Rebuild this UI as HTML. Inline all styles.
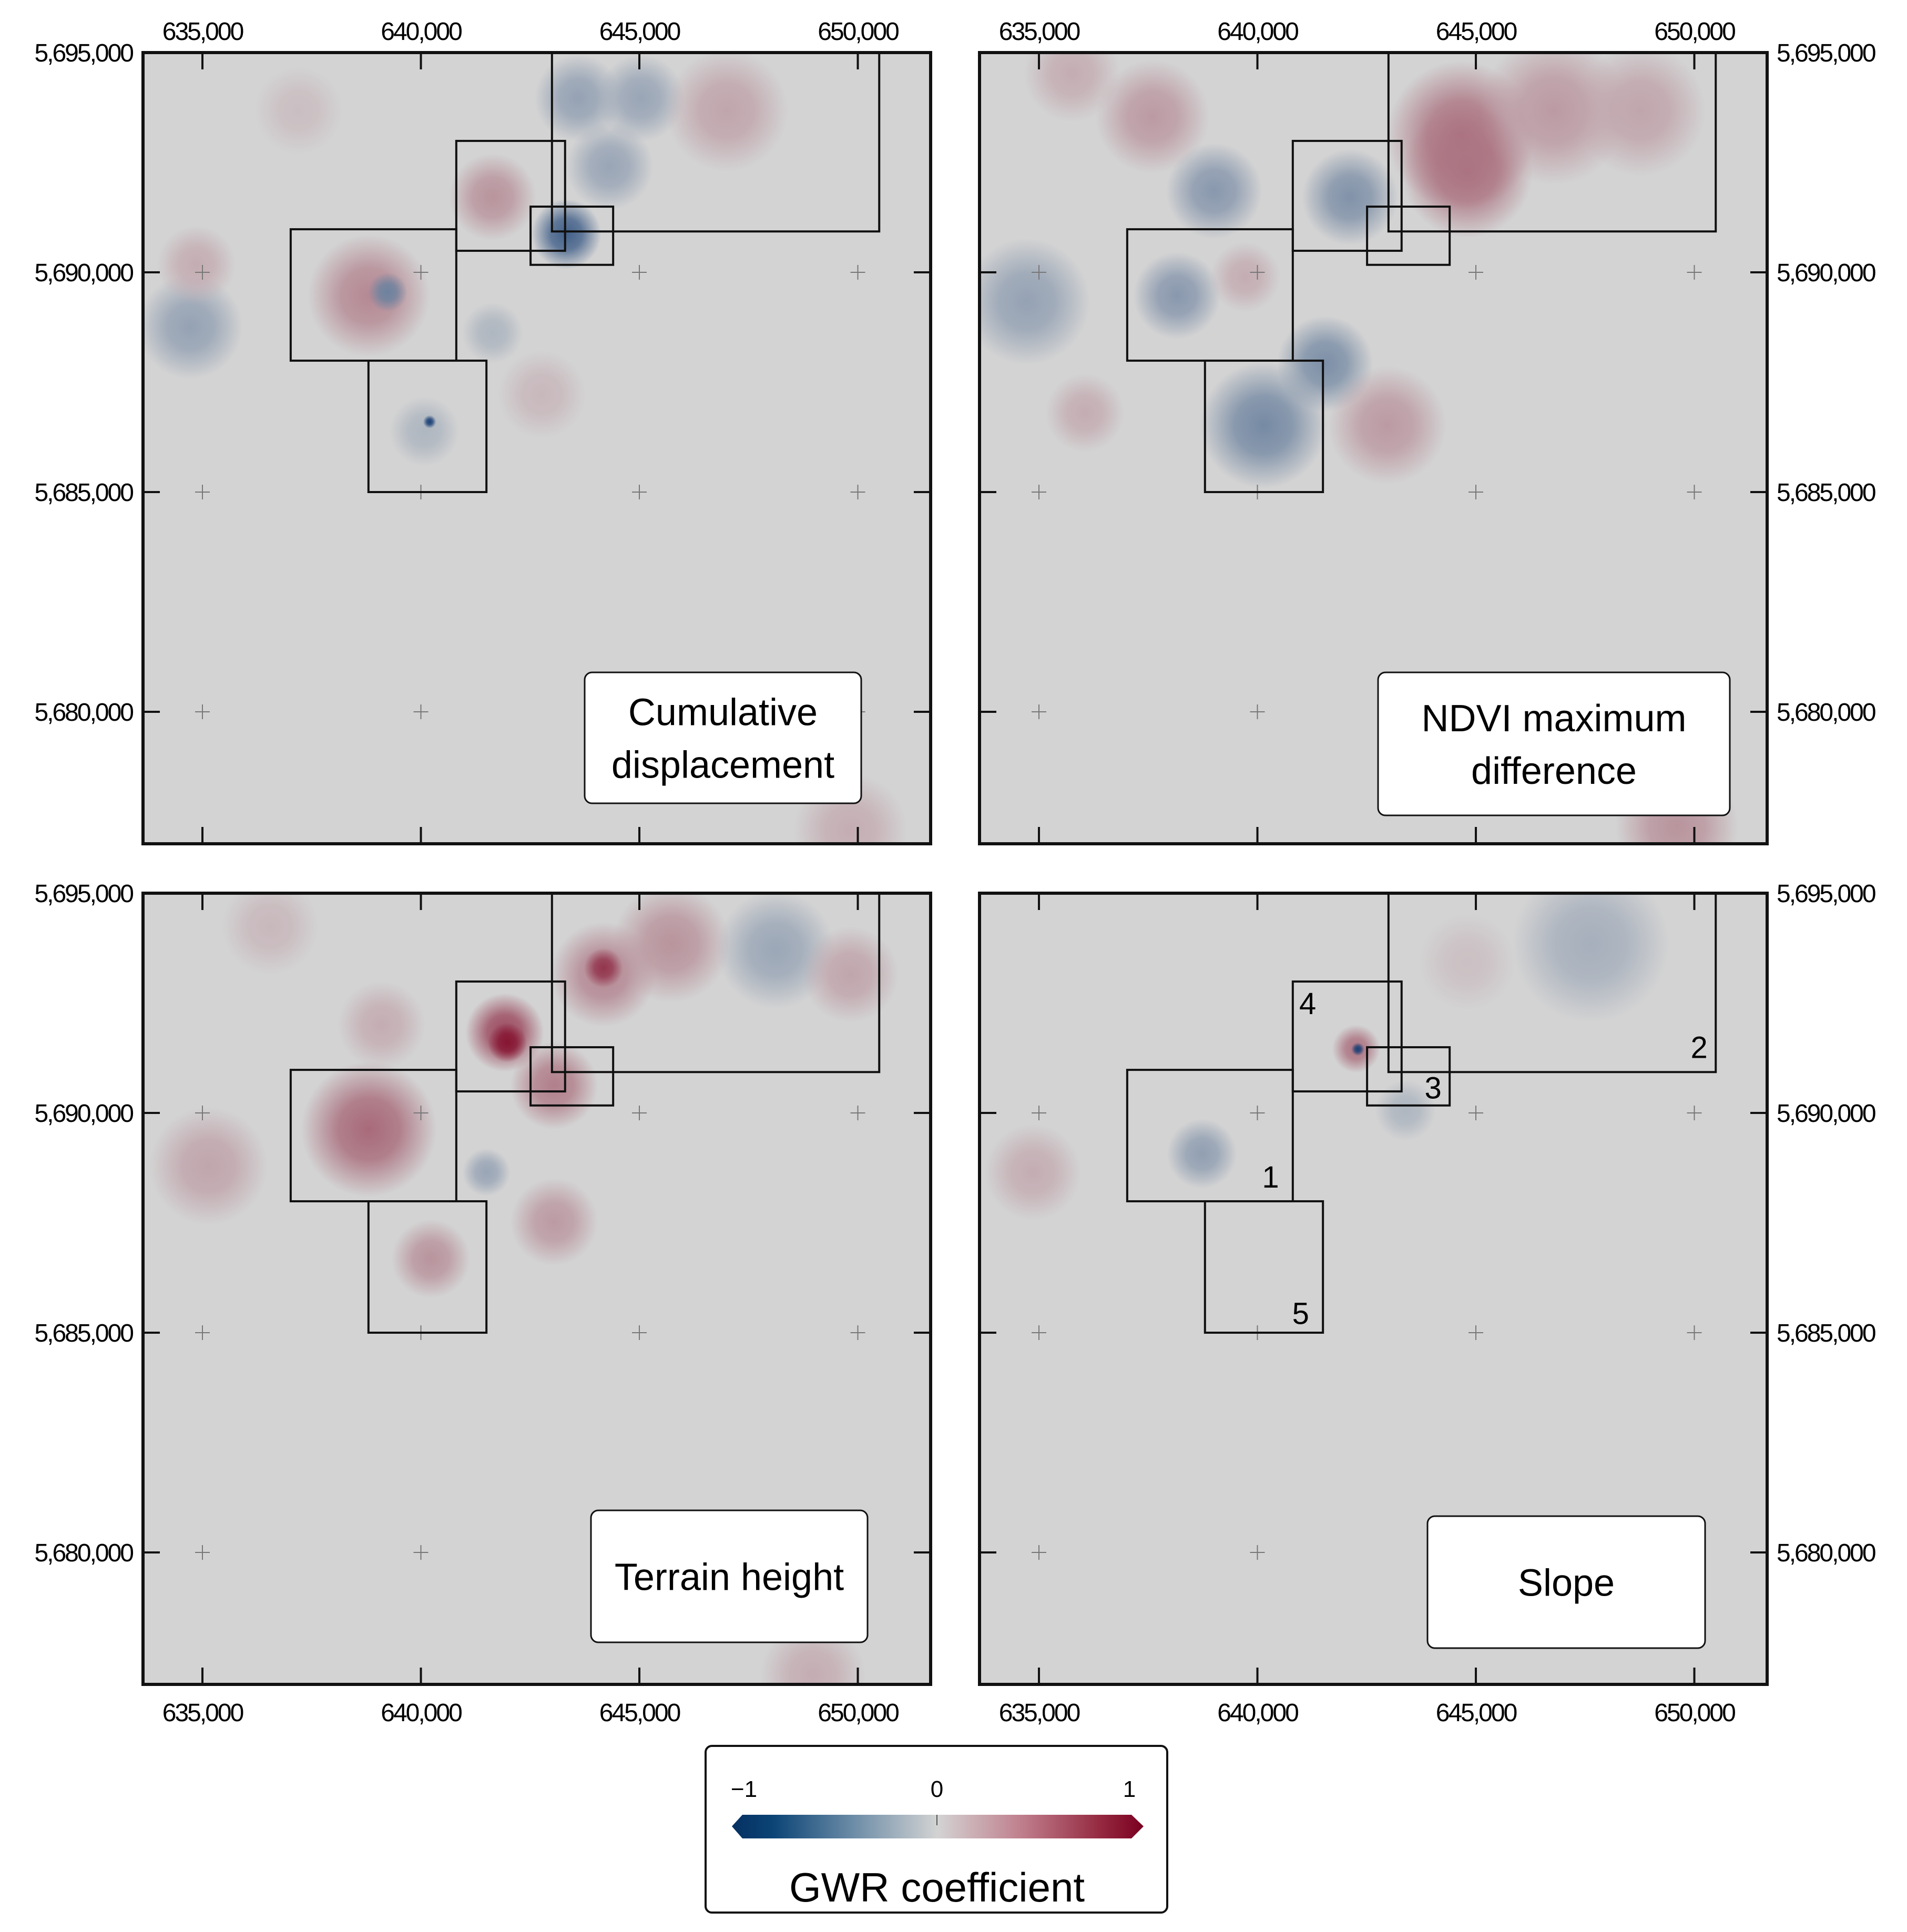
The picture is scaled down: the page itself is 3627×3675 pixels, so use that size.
<!DOCTYPE html>
<html><head><meta charset="utf-8"><style>
html,body{margin:0;padding:0;background:#fff;}
svg{display:block;}
text{font-family:"Liberation Sans",sans-serif;}
</style></head>
<body>
<svg id="fig" xmlns="http://www.w3.org/2000/svg" width="3627" height="3675" viewBox="0 0 3627 3675">
<defs>
<linearGradient id="cbar" x1="0" x2="1" y1="0" y2="0">
<stop offset="0" stop-color="#053061"/><stop offset="0.1" stop-color="#0b4476"/>
<stop offset="0.3" stop-color="#6f8ea8"/><stop offset="0.5" stop-color="#d3d3d3"/>
<stop offset="0.7" stop-color="#c0808e"/><stop offset="0.9" stop-color="#94273f"/>
<stop offset="1" stop-color="#7a0020"/></linearGradient>
</defs>
<g id="panels"></g>
<g>
<rect x="1342" y="3321" width="878" height="317" rx="12" fill="#fff" stroke="#111" stroke-width="4"/>
<polygon points="1412,3452 2152,3452 2175,3474 2152,3497 1412,3497 1392,3474" fill="url(#cbar)"/>
<line x1="1782" y1="3452" x2="1782" y2="3472" stroke="#555" stroke-width="2"/>
<text x="1415" y="3418" font-size="44" text-anchor="middle">−1</text>
<text x="1782" y="3418" font-size="44" text-anchor="middle">0</text>
<text x="2148" y="3418" font-size="44" text-anchor="middle">1</text>
<text x="1782" y="3617" font-size="78" text-anchor="middle">GWR coefficient</text>
</g>
</svg>
<script>
// ---- data ----
const panelTitles = [["Cumulative","displacement"],["NDVI maximum","difference"],["Terrain height"],["Slope"]];
const xTicks = [635000,640000,645000,650000];
const yTicks = [5695000,5690000,5685000,5680000];
const xTickLabels = ["635,000","640,000","645,000","650,000"];
const yTickLabels = ["5,695,000","5,690,000","5,685,000","5,680,000"];
// study boxes [Emin, Emax, Nmin, Nmax]
const boxes = [[643000,650490,5690930,5695000],[640810,643300,5690490,5692990],[642510,644400,5690170,5691495],[637020,640810,5687990,5690980],[638800,641500,5685000,5687990]];
const boxLabels = ["2","4","3","1","5"];
const boxLabelPos = [[650110,5691250],[641150,5692250],[644020,5690330],[640300,5688300],[640990,5685200]];
// blobs: [E, N, radius(m), coefficient]
const blobsDisp = [[643600,5693960,1000,-0.3],[645030,5693960,1000,-0.28],[644320,5692410,1000,-0.28],[647000,5693680,1400,0.22],[641640,5691710,1000,0.3],[643330,5690870,800,-0.7],[638810,5689470,1400,0.35],[639240,5689550,450,-0.5],[634720,5688760,1200,-0.3],[634860,5690170,900,0.18],[641640,5688620,700,-0.18],[640080,5686380,800,-0.18],[642770,5687220,1000,0.13],[637200,5693680,1000,0.1],[649830,5677300,1300,0.18],[640200,5686600,150,-0.9]];
const blobsNdvi = [[644660,5693120,1700,0.45],[644800,5692280,1500,0.45],[646780,5693680,1700,0.27],[648760,5693680,1500,0.22],[637600,5693540,1300,0.27],[635760,5694520,1100,0.18],[639010,5691850,1100,-0.36],[642120,5691710,1100,-0.4],[634720,5689330,1450,-0.3],[638160,5689470,1000,-0.36],[639720,5689890,800,0.18],[641550,5687920,1100,-0.42],[640140,5686520,1450,-0.45],[642970,5686520,1350,0.27],[636050,5686800,900,0.18],[649600,5677390,1400,0.3]];
const blobsTerrain = [[638810,5689630,1550,0.5],[641920,5691830,900,0.65],[641980,5691600,450,0.9],[643050,5690620,1000,0.4],[644180,5693150,1200,0.36],[644180,5693300,450,0.75],[645730,5693850,1350,0.3],[648120,5693710,1350,-0.27],[649830,5693150,1100,0.22],[635140,5688790,1350,0.22],[640230,5686680,900,0.3],[643050,5687520,1000,0.27],[641500,5688650,550,-0.28],[639100,5692000,1000,0.18],[636550,5694240,1100,0.13],[648970,5677220,1200,0.18]];
const blobsSlope = [[647630,5693850,1800,-0.22],[638730,5689070,800,-0.32],[642260,5691460,550,0.45],[642300,5691450,150,-0.9],[634860,5688650,1100,0.18],[643390,5690060,700,-0.18],[644800,5693430,1100,0.09]];
const panelBlobs = [blobsDisp, blobsNdvi, blobsTerrain, blobsSlope];

// ---- layout ----
const NS = "http://www.w3.org/2000/svg";
const P = {w:1498, h:1505, left:272, top:100, dx:1591, dy:1599};
const E0 = 633640, N0 = 5695000, kx = 0.0831, ky = 0.0836;
const origins = [[0,0],[1,0],[0,1],[1,1]];
function col(v){
  const g=[211,211,211], b=[5,48,107], r=[125,0,32];
  const t=Math.min(1,Math.abs(v)), c=v<0?b:r;
  return "rgb("+g.map((x,i)=>Math.round(x+(c[i]-x)*t)).join(",")+")";
}
function mk(tag, attrs, parent){
  const e=document.createElementNS(NS,tag);
  for(const k in attrs) e.setAttribute(k,attrs[k]);
  parent.appendChild(e); return e;
}
const root=document.getElementById("panels");
const defs=document.querySelector("defs");
origins.forEach((o,pi)=>{
  const ox=P.left+o[0]*P.dx, oy=P.top+o[1]*P.dy;
  const sx=E=>ox+(E-E0)*kx, sy=N=>oy+(N0-N)*ky;
  const g=mk("g",{},root);
  
  
  const cp=mk("clipPath",{id:"clip"+pi},defs);
  mk("rect",{x:ox,y:oy,width:P.w,height:P.h},cp);
  const bg=mk("rect",{x:ox,y:oy,width:P.w,height:P.h,fill:"#d3d3d3"},g);
  
  
  const bl=mk("g",{"clip-path":"url(#clip"+pi+")"},g);
  panelBlobs[pi].forEach((b,bi)=>{
    const id="gr"+pi+"_"+bi;
    const rg=mk("radialGradient",{id:id},defs);
    mk("stop",{offset:"0","stop-color":col(b[3]),"stop-opacity":"1"},rg);
    mk("stop",{offset:"0.45","stop-color":col(b[3]),"stop-opacity":"0.8"},rg);
    mk("stop",{offset:"1","stop-color":col(b[3]),"stop-opacity":"0"},rg);
    const c=mk("circle",{cx:sx(b[0]),cy:sy(b[1]),r:b[2]*kx,fill:"url(#"+id+")"},bl);
    
    
  });
  xTicks.forEach(E=>yTicks.slice(1).forEach(N=>{
    const x=sx(E), y=sy(N);
    mk("path",{d:`M${x-14},${y}H${x+14}M${x},${y-14}V${y+14}`,stroke:"#777","stroke-width":2},g);
  }));
  boxes.forEach((b,bi)=>{
    const r=mk("rect",{x:sx(b[0]),y:sy(b[3]),width:(b[1]-b[0])*kx,height:(b[3]-b[2])*ky,fill:"none",stroke:"#111","stroke-width":4},g);
    
    
    if(pi===3){
      const t=mk("text",{x:sx(boxLabelPos[bi][0]),y:sy(boxLabelPos[bi][1]),"font-size":58,"text-anchor":"middle"},g);
      t.textContent=boxLabels[bi];
      
      
    }
  });
  xTicks.forEach(E=>{const x=sx(E);
    mk("path",{d:`M${x},${oy}v32M${x},${oy+P.h}v-32`,stroke:"#111","stroke-width":4},g);});
  yTicks.forEach(N=>{const y=sy(N);
    mk("path",{d:`M${ox},${y}h32M${ox+P.w},${y}h-32`,stroke:"#111","stroke-width":4},g);});
  const fr=mk("rect",{x:ox,y:oy,width:P.w,height:P.h,fill:"none",stroke:"#111","stroke-width":6},g);
  
  
  xTicks.forEach((E,i)=>{
    const ty=o[1]===0?oy-24:oy+P.h+70;
    const t=mk("text",{x:sx(E),y:ty,"font-size":48,"text-anchor":"middle","letter-spacing":"-3"},g);
    t.textContent=xTickLabels[i];
    
    
  });
  yTicks.forEach((N,i)=>{
    const right=o[0]===1;
    const t=mk("text",{x:right?ox+P.w+18:ox-20,y:sy(N)+17,"font-size":48,"text-anchor":right?"start":"end","letter-spacing":"-3"},g);
    t.textContent=yTickLabels[i];
    
    
  });
});
const titleBoxes=[[1112,1279,526,249],[2621,1279,669,272],[1124,2873,526,251],[2715,2884,528,251]];
titleBoxes.forEach((b,i)=>{
  const r=mk("rect",{x:b[0],y:b[1],width:b[2],height:b[3],rx:14,fill:"#fff",stroke:"#111","stroke-width":3},root);
  
  
  const lines=panelTitles[i], cx=b[0]+b[2]/2, cy=b[1]+b[3]/2, lh=100;
  lines.forEach((s,li)=>{
    const t=mk("text",{x:cx,y:cy+(li-(lines.length-1)/2)*lh+26,"font-size":72,"text-anchor":"middle"},root);
    t.textContent=s;
    
    
  });
});
</script>
</body></html>
